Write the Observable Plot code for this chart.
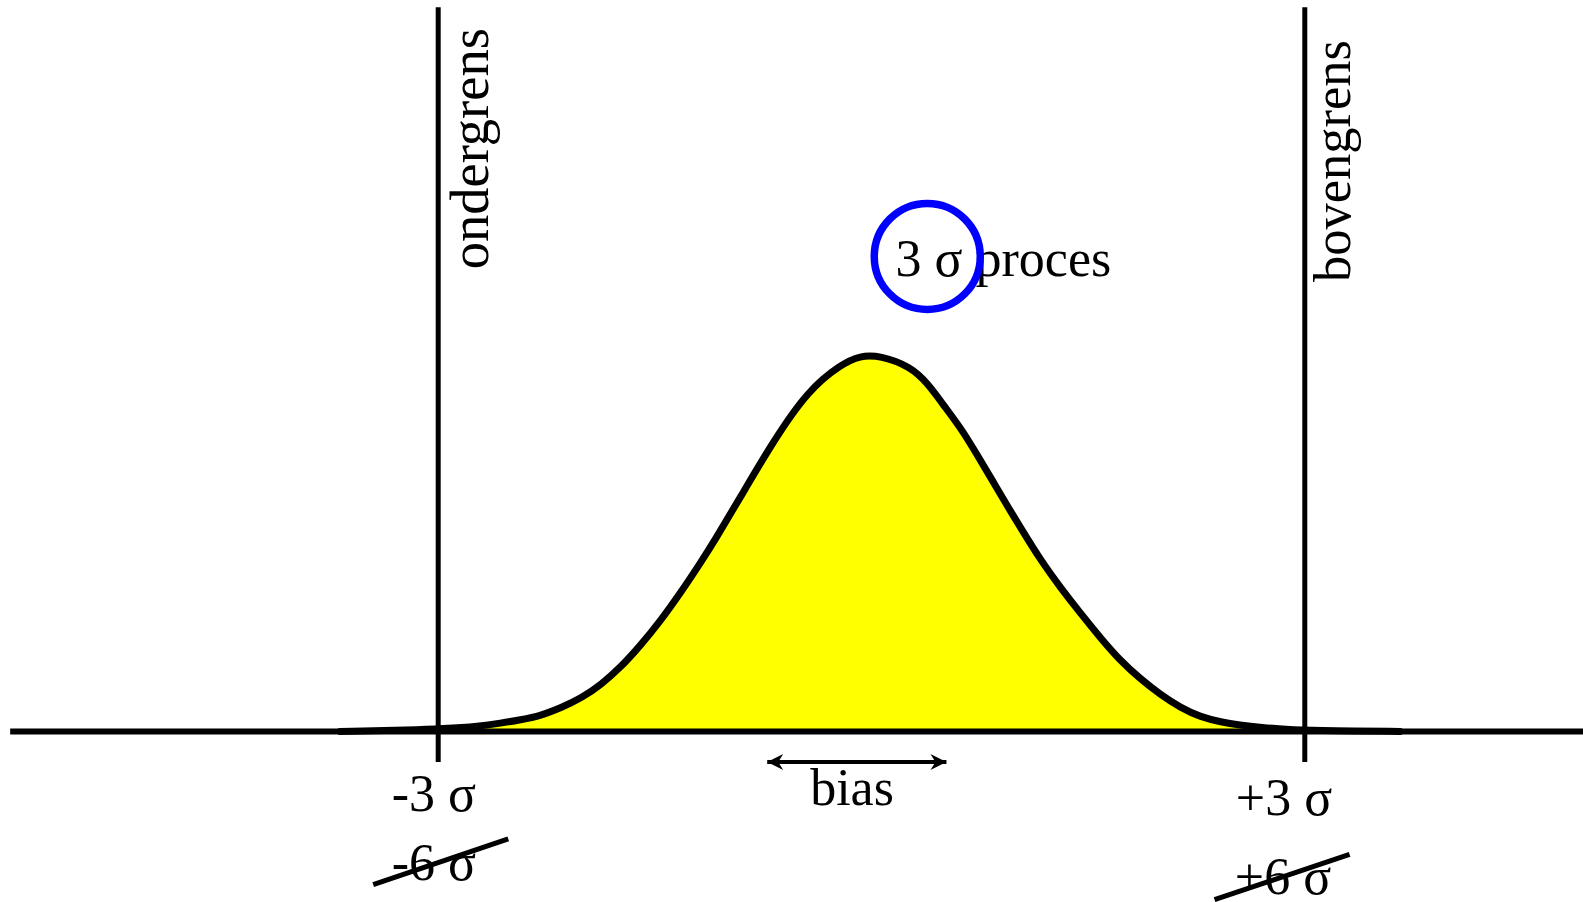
<!DOCTYPE html>
<html>
<head>
<meta charset="utf-8">
<script src="https://cdn.jsdelivr.net/npm/d3@7"></script>
<script src="https://cdn.jsdelivr.net/npm/@observablehq/plot@0.6"></script>
<style>
  html, body { margin: 0; padding: 0; background: #fff; }
  #chart svg { display: block; }
</style>
</head>
<body>
<div id="chart"></div>
<script>
// ---- data (x in σ units, y relative to the peak) ----
const curveX = [-3.68, -3.17, -2.98, -2.71, -2.57, -2.43, -2.29, -2.15, -2.01, -1.87,
                -1.74, -1.60, -1.46, -1.32, -1.18, -1.09, -0.91, -0.68, -0.44, -0.21,
                -0.08, 0.06, 0.27, 0.39, 0.50, 0.62, 0.73, 0.84, 0.96, 1.03,
                 1.17, 1.31, 1.45, 1.59, 1.72, 1.86, 2.00, 2.14, 2.28, 2.42,
                 2.55, 2.69, 2.92, 3.18, 3.66];
const curveY = [0.000, 0.004, 0.007, 0.014, 0.022, 0.031, 0.042, 0.063, 0.088, 0.125,
                0.169, 0.228, 0.294, 0.369, 0.450, 0.504, 0.620, 0.770, 0.905, 0.974,
                0.997, 0.997, 0.968, 0.923, 0.865, 0.804, 0.735, 0.664, 0.586, 0.542,
                0.455, 0.381, 0.312, 0.246, 0.189, 0.140, 0.098, 0.063, 0.038, 0.025,
                0.017, 0.011, 0.004, 0.002, 0.000];
const limitX = [-3, 3];
const limitNames = ["ondergrens", "bovengrens"];
const tickLabels = ["-3 σ", "+3 σ"];
const struckLabels = ["-6 σ", "+6 σ"];
const processLabel = "3 σ proces";
const biasLabel = "bias";

const curve = curveX.map((x, i) => ({x, y: curveY[i]}));
const FONT = "Liberation Serif, Times New Roman, serif";
const FS = 52;

function arrowHead(color) {
  const m = d3.create("svg:marker")
    .attr("viewBox", "-17 -9 18 18")
    .attr("markerWidth", 18).attr("markerHeight", 18)
    .attr("markerUnits", "userSpaceOnUse")
    .attr("refX", 0).attr("refY", 0)
    .attr("orient", "auto-start-reverse");
  m.append("path").attr("d", "M0,0L-16,-8L-11,0L-16,8Z").attr("fill", color).attr("stroke", "none");
  return m.node();
}

const txt = (label, o) => Plot.text([label], {text: d => d, lineAnchor: "bottom",
  fontSize: FS, fontFamily: FONT, fill: "#000", ...o});

const plot = Plot.plot({
  width: 1583,
  height: 902,
  margin: 0,
  x: {domain: [-3, 3], range: [437.7, 1304.3], axis: null},
  y: {domain: [0, 1], range: [731, 354], axis: null},
  style: {background: "#fff", fontFamily: FONT, fontSize: FS + "px", color: "#000"},
  marks: [
    Plot.areaY(curve, {x: "x", y: "y", fill: "#ffff00", curve: "basis"}),
    Plot.line(curve, {x: "x", y: "y", stroke: "#000", strokeWidth: 7, curve: "basis"}),
    // spec limits
    Plot.ruleX(limitX, {y1: -0.082, y2: 1.92, stroke: "#000", strokeWidth: 5}),
    // baseline
    Plot.ruleY([0], {x1: -5.96, x2: 4.93, stroke: "#000", strokeWidth: 6}),
    // limit names (rotated)
    txt(limitNames[0], {x: -2.652, y: 1.226, rotate: -90, textAnchor: "start", fontSize: 54.5}),
    txt(limitNames[1], {x: 3.316, y: 1.192, rotate: -90, textAnchor: "start", fontSize: 52.5}),
    // tick labels
    txt(tickLabels[0], {x: -3.03, y: -0.210, textAnchor: "middle"}),
    txt(tickLabels[1], {x: 2.856, y: -0.222, textAnchor: "middle"}),
    txt(struckLabels[0], {x: -3.03, y: -0.395, textAnchor: "middle"}),
    txt(struckLabels[1], {x: 2.849, y: -0.432, textAnchor: "middle"}),
    // strike-through lines
    Plot.link([0], {x1: -3.45, y1: -0.406, x2: -2.515, y2: -0.285, stroke: "#000", strokeWidth: 5}),
    Plot.link([0], {x1: 2.375, y1: -0.446, x2: 3.31, y2: -0.326, stroke: "#000", strokeWidth: 5}),
    // bias arrow & label
    Plot.link([0], {x1: -0.722, y1: -0.081, x2: 0.519, y2: -0.081, stroke: "#000",
      strokeWidth: 4, markerStart: arrowHead, markerEnd: arrowHead}),
    txt(biasLabel, {x: -0.135, y: -0.196, textAnchor: "middle"}),
    // process label & circle
    txt(processLabel, {x: 0.166, y: 1.209, textAnchor: "start"}),
    Plot.dot([0], {x: () => 0.386, y: () => 1.26, r: 53, stroke: "#0000ff", strokeWidth: 7.5, fill: "none"})
  ]
});
document.getElementById("chart").appendChild(plot);
</script>
</body>
</html>
